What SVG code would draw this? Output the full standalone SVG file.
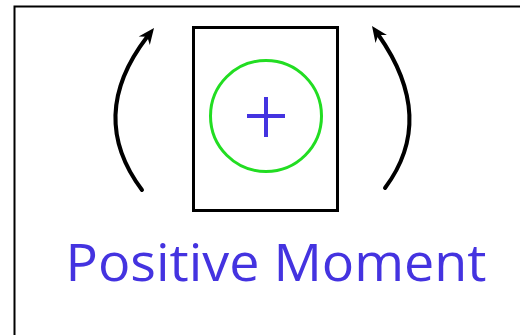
<svg xmlns="http://www.w3.org/2000/svg" width="520" height="335" viewBox="0 0 520 335">
<style>
.arc{fill:none;stroke:#000;stroke-width:4;stroke-linecap:round}
.head{fill:#000}
.lbl{font-family:"Open Sans","Noto Sans",sans-serif;fill:#4433e0}
</style>
<rect x="0" y="0" width="520" height="335" fill="#fff"/>
<path d="M14.5,340 V6.5 H525" fill="none" stroke="#000" stroke-width="2"/>
<g id="beam">
<rect x="193.5" y="27.5" width="144" height="183" fill="#fff" stroke="#000" stroke-width="3"/>
</g>
<g id="sign">
<circle cx="266" cy="116" r="55.5" fill="none" stroke="#22dd22" stroke-width="3"/>
<path d="M247,116 H285 M266,97 V137" stroke="#4433e0" stroke-width="4" fill="none"/>
</g>
<g id="connectors">
<path class="arc" d="M142,190 Q86.5,116 147,37"/>
<polygon class="head" points="154,28 149.8,45 147.3,36.7 138.7,36.4"/>
<path class="arc" d="M385,188 Q437,118.5 378.5,35"/>
<polygon class="head" points="372,26 386.9,35.1 378.3,35 375.5,43.1"/>
</g>
<g id="label">
<text class="lbl" x="276" y="281" font-size="51" text-anchor="middle" textLength="421" lengthAdjust="spacingAndGlyphs">Positive Moment</text>
</g>
</svg>
